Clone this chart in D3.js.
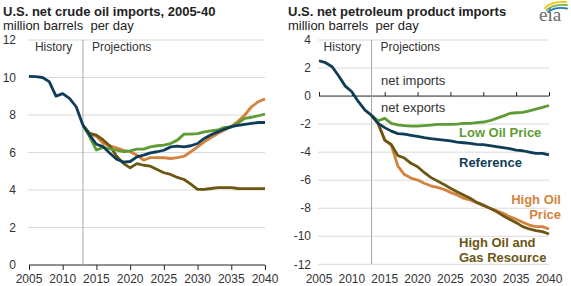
<!DOCTYPE html>
<html>
<head>
<meta charset="utf-8">
<script src="https://cdn.jsdelivr.net/npm/d3@7"></script>
<style>
  body { margin: 0; background: #fff; }
  svg { display: block; font-family: "Liberation Sans", Arial, sans-serif; }
</style>
</head>
<body>
<div id="chart"></div>
<script>
// ---- data ----
const histYears = d3.range(2005, 2014);   // 2005..2013
const projYears = d3.range(2013, 2041);   // 2013..2040

// left panel: net crude oil imports
const crudeHistory   = [10.06, 10.05, 10.0, 9.78, 9.01, 9.14, 8.89, 8.44, 7.45];
const crudeReference = [7.45, 6.93, 6.44, 6.31, 5.96, 5.64, 5.49, 5.52, 5.77, 5.86, 5.98, 6.04, 6.12, 6.3, 6.34, 6.3, 6.36, 6.48, 6.75, 6.95, 7.1, 7.25, 7.38, 7.45, 7.5, 7.55, 7.6, 7.6];
const crudeLowPrice  = [7.45, 6.84, 6.13, 6.27, 6.2, 6.12, 6.04, 6.09, 6.18, 6.18, 6.3, 6.36, 6.39, 6.48, 6.66, 6.98, 6.98, 7.01, 7.1, 7.15, 7.2, 7.34, 7.36, 7.57, 7.82, 7.88, 7.96, 8.05];
const crudeHighPrice = [7.45, 7.0, 6.85, 6.5, 6.35, 6.25, 6.12, 6.04, 5.86, 5.59, 5.73, 5.73, 5.72, 5.68, 5.73, 5.8, 6.04, 6.3, 6.57, 6.8, 7.01, 7.2, 7.39, 7.66, 8.0, 8.44, 8.71, 8.86];
const crudeHighRes   = [7.45, 7.02, 6.93, 6.67, 6.35, 5.8, 5.42, 5.18, 5.41, 5.32, 5.27, 5.09, 4.92, 4.83, 4.67, 4.56, 4.31, 4.03, 4.03, 4.08, 4.13, 4.13, 4.13, 4.08, 4.07, 4.07, 4.07, 4.07];

// right panel: net petroleum product imports
const prodHistory   = [2.52, 2.38, 2.09, 1.43, 0.71, 0.31, -0.4, -1.0, -1.38];
const prodReference = [-1.38, -1.95, -2.25, -2.5, -2.68, -2.72, -2.8, -2.87, -2.97, -3.04, -3.09, -3.14, -3.2, -3.28, -3.33, -3.37, -3.44, -3.47, -3.54, -3.61, -3.68, -3.75, -3.85, -3.9, -4.0, -4.09, -4.09, -4.2];
const prodLowPrice  = [-1.38, -1.76, -1.59, -1.95, -2.05, -2.11, -2.14, -2.14, -2.11, -2.07, -2.02, -2.02, -2.02, -2.0, -1.95, -1.95, -1.9, -1.85, -1.76, -1.59, -1.43, -1.24, -1.19, -1.16, -1.05, -0.93, -0.81, -0.67];
const prodHighPrice = [-1.38, -1.95, -3.14, -3.5, -5.0, -5.6, -5.85, -5.99, -6.22, -6.4, -6.51, -6.65, -6.87, -7.05, -7.29, -7.41, -7.6, -7.82, -8.0, -8.17, -8.36, -8.6, -8.79, -9.0, -9.2, -9.31, -9.31, -9.48];
const prodHighRes   = [-1.38, -1.95, -3.14, -3.45, -4.25, -4.42, -4.8, -5.04, -5.45, -5.8, -6.05, -6.3, -6.58, -6.82, -7.05, -7.29, -7.58, -7.77, -8.0, -8.24, -8.53, -8.79, -9.03, -9.31, -9.48, -9.6, -9.67, -9.84];

const xTicks     = [2005, 2010, 2015, 2020, 2025, 2030, 2035, 2040];
const crudeTicks = [0, 2, 4, 6, 8, 10, 12];
const prodTicks  = [-12, -10, -8, -6, -4, -2, 0, 2, 4];

const colors = {
  reference: '#0f3d57',
  low:       '#5e9b35',
  high:      '#d4823d',
  highRes:   '#6b5614'
};

const width  = 571;
const height = 286;

const svg = d3.select('#chart')
  .append('svg')
  .attr('width', width)
  .attr('height', height);

// draw one panel
function drawPanel(opt) {
  const x = d3.scaleLinear().domain([2005, 2040]).range(opt.xRange);
  const y = d3.scaleLinear().domain(opt.yDomain).range(opt.yRange);
  const g = svg.append('g');

  // gridlines
  g.selectAll('.grid')
    .data(opt.yTicks.filter(d => d !== 0))
    .enter().append('line')
    .attr('x1', x(2005) - 1)
    .attr('x2', x(2040))
    .attr('y1', d => y(d))
    .attr('y2', d => y(d))
    .style('stroke', '#d9d9d9')
    .style('stroke-width', 1);

  // y labels
  g.selectAll('.ylab')
    .data(opt.yTicks)
    .enter().append('text')
    .attr('x', opt.yLabelX)
    .attr('y', d => y(d))
    .attr('dy', '0.35em')
    .attr('text-anchor', 'end')
    .style('font-size', '12px')
    .style('fill', '#333')
    .text(d => d);

  // zero axis with ticks
  const axis = opt.bottomAxis
    ? d3.axisBottom(x).tickValues(xTicks).tickSize(5).tickFormat('')
    : d3.axisTop(x).tickValues(xTicks).tickSize(4).tickFormat('');
  g.append('g')
    .attr('transform', `translate(0,${y(0)})`)
    .call(axis)
    .call(s => s.select('.domain').attr('d', `M${x(2005)},0H${x(2040)}`).style('stroke', '#222'))
    .call(s => s.selectAll('.tick line').style('stroke', '#222'));

  // x labels at the bottom
  g.selectAll('.xlab')
    .data(xTicks)
    .enter().append('text')
    .attr('x', d => x(d))
    .attr('y', 283)
    .attr('text-anchor', 'middle')
    .style('font-size', '12px')
    .style('fill', '#333')
    .text(d => d);

  // history / projections divider
  g.append('line')
    .attr('x1', x(2013)).attr('x2', x(2013))
    .attr('y1', y(opt.yDomain[1])).attr('y2', y(opt.yDomain[0]))
    .style('stroke', '#a6a6a6')
    .style('stroke-width', 1);

  g.append('text')
    .attr('x', x(2013) - 48).attr('y', 51)
    .style('font-size', '12px').style('fill', '#333')
    .text('History');
  g.append('text')
    .attr('x', x(2013) + 9).attr('y', 51)
    .style('font-size', '12px').style('fill', '#333')
    .text('Projections');

  // lines
  const line = d3.line().x(d => x(d[0])).y(d => y(d[1]));
  const series = [
    {values: opt.highPrice, color: colors.high},
    {values: opt.highRes,   color: colors.highRes},
    {values: opt.lowPrice,  color: colors.low},
    {values: opt.reference, color: colors.reference}
  ];
  series.forEach(s => {
    g.append('path')
      .datum(projYears.map((yr, i) => [yr, s.values[i]]))
      .attr('d', line)
      .style('fill', 'none')
      .style('stroke', s.color)
      .style('stroke-width', 2.8)
      .style('stroke-linejoin', 'round');
  });
  g.append('path')
    .datum(histYears.map((yr, i) => [yr, opt.history[i]]))
    .attr('d', line)
    .style('fill', 'none')
    .style('stroke', colors.reference)
    .style('stroke-width', 2.8)
    .style('stroke-linejoin', 'round');

  // titles
  g.append('text')
    .attr('x', opt.titleX).attr('y', 16)
    .style('font-size', '13px').style('font-weight', 'bold').style('fill', '#222')
    .text(opt.title);
  g.append('text')
    .attr('x', opt.titleX).attr('y', 29.5)
    .style('font-size', '13px').style('fill', '#222')
    .style('white-space', 'pre')
    .text('million barrels  per day');

  return {x, y, g};
}

drawPanel({
  xRange: [29, 265], yDomain: [0, 12], yRange: [265, 40],
  yTicks: crudeTicks, yLabelX: 16, bottomAxis: true,
  history: crudeHistory, reference: crudeReference, lowPrice: crudeLowPrice,
  highPrice: crudeHighPrice, highRes: crudeHighRes,
  title: 'U.S. net crude oil imports, 2005-40', titleX: 3
});

const right = drawPanel({
  xRange: [319, 549], yDomain: [-12, 4], yRange: [264.3, 40],
  yTicks: prodTicks, yLabelX: 311, bottomAxis: false,
  history: prodHistory, reference: prodReference, lowPrice: prodLowPrice,
  highPrice: prodHighPrice, highRes: prodHighRes,
  title: 'U.S. net petroleum product imports', titleX: 288
});

// annotations on right panel
const note = (txt, xx, yy, color, anchor) => right.g.append('text')
  .attr('x', xx).attr('y', yy)
  .attr('text-anchor', anchor || 'start')
  .style('font-size', '13px')
  .style('font-weight', 'bold')
  .style('fill', color)
  .text(txt);

right.g.append('text').attr('x', 381).attr('y', 85)
  .style('font-size', '13px').style('fill', '#333').text('net imports');
right.g.append('text').attr('x', 381).attr('y', 112)
  .style('font-size', '13px').style('fill', '#333').text('net exports');

note('Low Oil Price', 459, 137, colors.low);
note('Reference', 459, 167, colors.reference);
note('High Oil', 561, 204, colors.high, 'end');
note('Price', 561, 219, colors.high, 'end');
note('High Oil and', 459, 247, colors.highRes);
note('Gas Resource', 459, 262, colors.highRes);

// eia logo
const logo = svg.append('g');
[['#f2c300', 'M545,8 Q551,1.5 566,2'],
 ['#7ab648', 'M546.5,10 Q553,4 567,5'],
 ['#1f7bbf', 'M548,12 Q555,6.5 567,8.5']].forEach(a => {
  logo.append('path')
    .attr('d', a[1])
    .style('fill', 'none')
    .style('stroke', a[0])
    .style('stroke-width', 1.8)
    .style('stroke-linecap', 'round');
});
logo.append('text')
  .attr('x', 539).attr('y', 21)
  .style('font-family', '"Liberation Serif", serif')
  .style('font-size', '19px')
  .style('fill', '#6b6b6b')
  .text('eia');
</script>
</body>
</html>
